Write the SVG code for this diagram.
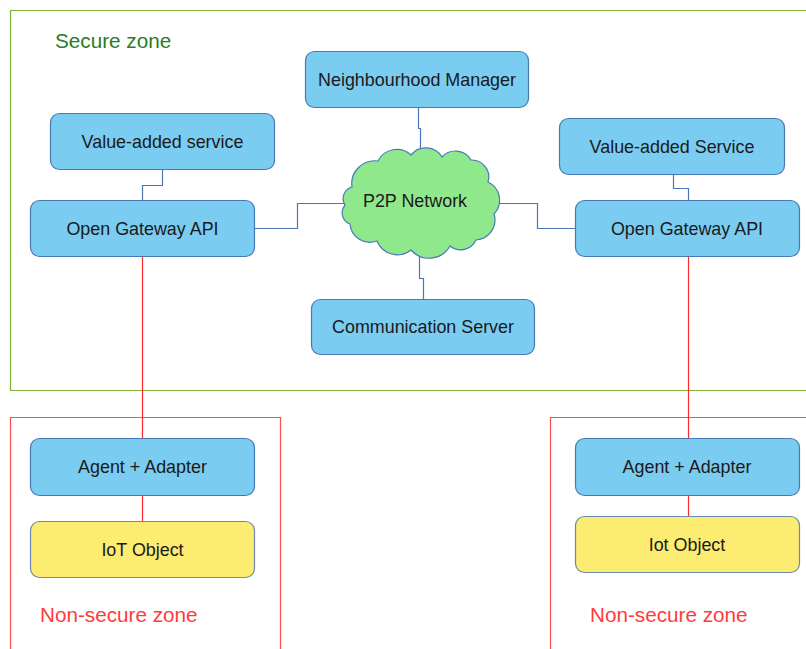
<svg xmlns="http://www.w3.org/2000/svg" width="806" height="649" viewBox="0 0 806 649">
<style>
.node{fill:#7accf1;stroke:#4a78b5;stroke-width:1.2}
.iot{fill:#fcec72;stroke:#6a8ab5;stroke-width:1.2}
.lbl{font-family:"Liberation Sans",Arial,sans-serif;font-size:17.9px;fill:#1a1a1a;text-anchor:middle}
.zone{font-family:"Liberation Sans",Arial,sans-serif;font-size:20.7px}
.blue{fill:none;stroke:#4a76b8;stroke-width:1.2}
.red{fill:none;stroke:#ff2a2a;stroke-width:1.2}
</style>
<rect width="806" height="649" fill="#ffffff"/>
<g id="secure-zone">
<path d="M806,10.5 H10.5 V390.5 H806" fill="none" stroke="#7fae3a" stroke-width="1.2"/>
<text class="zone" x="55" y="48" fill="#2a7d1e">Secure zone</text>
</g>
<g id="nonsecure-zone-left">
<path d="M10.5,649 V417.5 H280.5 V649" fill="none" stroke="#ff4d4d" stroke-width="1.2"/>
<text class="zone" x="40" y="622" fill="#ff3b3b">Non-secure zone</text>
</g>
<g id="nonsecure-zone-right">
<path d="M550.5,649 V417.5 H806" fill="none" stroke="#ff4d4d" stroke-width="1.2"/>
<text class="zone" x="590" y="622" fill="#ff3b3b">Non-secure zone</text>
</g>
<g id="connectors">
<path class="blue" d="M162.5,170 V185.5 H142.5 V200"/>
<path class="blue" d="M255,228.5 H297.5 V203.5 H346"/>
<path class="blue" d="M496,203.5 H537.5 V228.5 H575"/>
<path class="blue" d="M418.5,108 V128.5 H420.5 V152"/>
<path class="blue" d="M419.5,254 V278.5 H423.5 V299"/>
<path class="blue" d="M673.5,175 V188.5 H688.5 V200"/>
<path class="red" d="M142.5,257 V438"/>
<path class="red" d="M142.5,496 V521"/>
<path class="red" d="M688.5,257 V438"/>
<path class="red" d="M688.5,496 V516"/>
</g>
<g id="value-added-service-left">
<rect class="node" x="50.5" y="113.5" width="224" height="56" rx="9"/>
<text class="lbl" x="162.5" y="147.5">Value-added service</text>
</g>
<g id="open-gateway-api-left">
<rect class="node" x="30.5" y="200.5" width="224" height="56" rx="9"/>
<text class="lbl" x="142.5" y="234.5">Open Gateway API</text>
</g>
<g id="neighbourhood-manager">
<rect class="node" x="305.5" y="51.5" width="223" height="56" rx="9"/>
<text class="lbl" x="417" y="85.5">Neighbourhood Manager</text>
</g>
<g id="p2p-network">
<path d="M352,187 A23,23 0 0 1 378,161 A21,21 0 0 1 411,155 A19,19 0 0 1 442,157 A18,18 0 0 1 471,160 A17,17 0 0 1 488,182 A20,20 0 0 1 494,214 A20,20 0 0 1 476,240 A17,17 0 0 1 450,246 A24,24 0 0 1 411,250 A22,22 0 0 1 377,241 A20,20 0 0 1 350,224 A12,12 0 0 1 345,205 A12,12 0 0 1 352,187 Z" fill="#90e88c" stroke="#4a78b5" stroke-width="1.2"/>
<text class="lbl" x="415" y="207">P2P Network</text>
</g>
<g id="communication-server">
<rect class="node" x="311.5" y="299.5" width="223" height="55" rx="9"/>
<text class="lbl" x="423" y="333">Communication Server</text>
</g>
<g id="value-added-service-right">
<rect class="node" x="559.5" y="118.5" width="225" height="56" rx="9"/>
<text class="lbl" x="672" y="152.5">Value-added Service</text>
</g>
<g id="open-gateway-api-right">
<rect class="node" x="575.5" y="200.5" width="224" height="56" rx="9"/>
<text class="lbl" x="687" y="234.5">Open Gateway API</text>
</g>
<g id="agent-adapter-left">
<rect class="node" x="30.5" y="438.5" width="224" height="57" rx="9"/>
<text class="lbl" x="142.5" y="472.5">Agent + Adapter</text>
</g>
<g id="iot-object-left">
<rect class="iot" x="30.5" y="521.5" width="224" height="56" rx="9"/>
<text class="lbl" x="142.5" y="555.5">IoT Object</text>
</g>
<g id="agent-adapter-right">
<rect class="node" x="575.5" y="438.5" width="224" height="57" rx="9"/>
<text class="lbl" x="687" y="472.5">Agent + Adapter</text>
</g>
<g id="iot-object-right">
<rect class="iot" x="575.5" y="516.5" width="224" height="56" rx="9"/>
<text class="lbl" x="687" y="550.5">Iot Object</text>
</g>
</svg>
